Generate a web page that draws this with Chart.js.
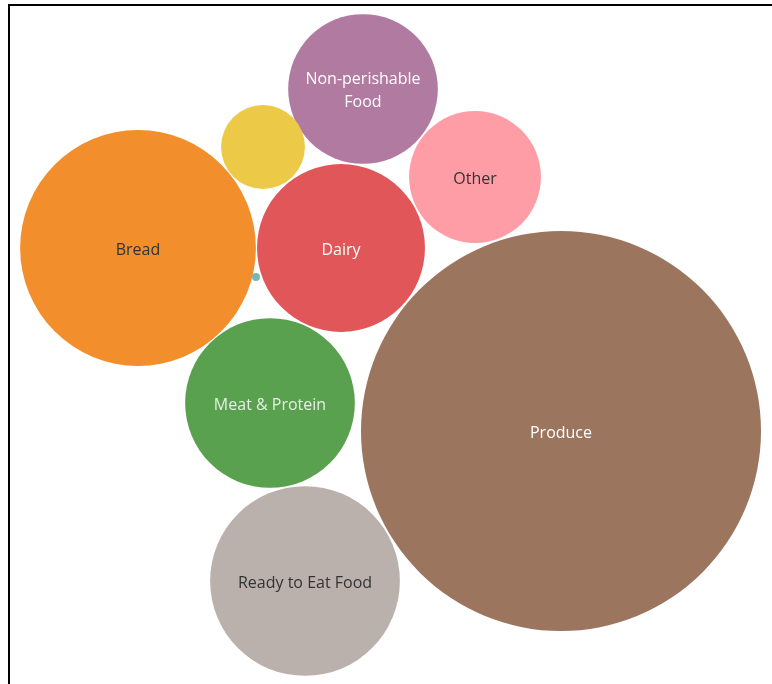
<!DOCTYPE html>
<html>
<head>
<meta charset="utf-8">
<script src="https://cdn.jsdelivr.net/npm/chart.js@4"></script>
<style>
  html, body { margin: 0; padding: 0; background: #ffffff; }
  #wrap { position: relative; width: 772px; height: 684px; }
  #frame { position: absolute; left: 8px; top: 4px; right: -10px; bottom: -10px;
           border-top: 2px solid #000; border-left: 2px solid #000; pointer-events: none; }
  canvas { position: absolute; left: 0; top: 0; }
</style>
</head>
<body>
<div id="wrap">
  <canvas id="c" width="772" height="684"></canvas>
  <div id="frame"></div>
</div>
<script>
// Categories and their measure (bubble area is proportional to value)
const categories = ["Produce", "Bread", "Ready to Eat Food", "Meat & Protein", "Dairy",
                    "Non-perishable Food", "Other", "Beverages", "Baby Items"];
const values     = [400, 139, 90, 72, 70.5, 56, 43.5, 17.6, 0.16];
// Packed-bubble layout positions (layout units)
const layoutX    = [561, 138, 305, 270, 341, 363, 475, 263, 256];
const layoutY    = [431, 248, 581, 403, 248, 89, 177, 147, 277];
// Labels shown (two-line labels split by \n); empty = no label
const labels     = ["Produce", "Bread", "Ready to Eat Food", "Meat & Protein", "Dairy",
                    "Non-perishable\nFood", "Other", "", ""];

const colors     = ["#9C755F", "#F28E2B", "#BAB0AC", "#59A14F", "#E15759",
                    "#B07AA1", "#FF9DA7", "#EDC948", "#76B7B2"];
const textColors = ["#ffffff", "#333333", "#333333", "#e6efe4", "#ffffff",
                    "#ffffff", "#333333", "#333333", "#333333"];

const sizeScale = 10; // radius = sizeScale * sqrt(value)

const points = categories.map((c, i) => ({
  x: layoutX[i], y: layoutY[i], r: sizeScale * Math.sqrt(values[i])
}));

const labelPlugin = {
  id: 'bubbleLabels',
  afterDatasetsDraw(chart) {
    const ctx = chart.ctx;
    const meta = chart.getDatasetMeta(0);
    ctx.save();
    ctx.font = '16px "Open Sans", "Noto Sans", sans-serif';
    ctx.textAlign = 'center';
    ctx.textBaseline = 'middle';
    meta.data.forEach((el, i) => {
      const txt = labels[i];
      if (!txt) return;
      const lines = txt.split('\n');
      const lh = 23;
      const y0 = el.y + 2 - (lines.length - 1) * lh / 2;
      ctx.fillStyle = textColors[i];
      lines.forEach((ln, k) => ctx.fillText(ln, el.x, y0 + k * lh));
    });
    ctx.restore();
  }
};

new Chart(document.getElementById('c'), {
  type: 'bubble',
  data: {
    datasets: [{
      label: 'Category',
      data: points,
      backgroundColor: colors,
      hoverBackgroundColor: colors,
      borderWidth: 0,
      hoverBorderWidth: 0,
      clip: false
    }]
  },
  options: {
    responsive: false,
    animation: false,
    events: [],
    layout: { padding: 0, autoPadding: false },
    plugins: { legend: { display: false }, tooltip: { enabled: false } },
    scales: {
      x: { type: 'linear', min: 0, max: 772, display: false },
      y: { type: 'linear', min: 0, max: 684, reverse: true, display: false }
    }
  },
  plugins: [labelPlugin]
});
</script>
</body>
</html>
